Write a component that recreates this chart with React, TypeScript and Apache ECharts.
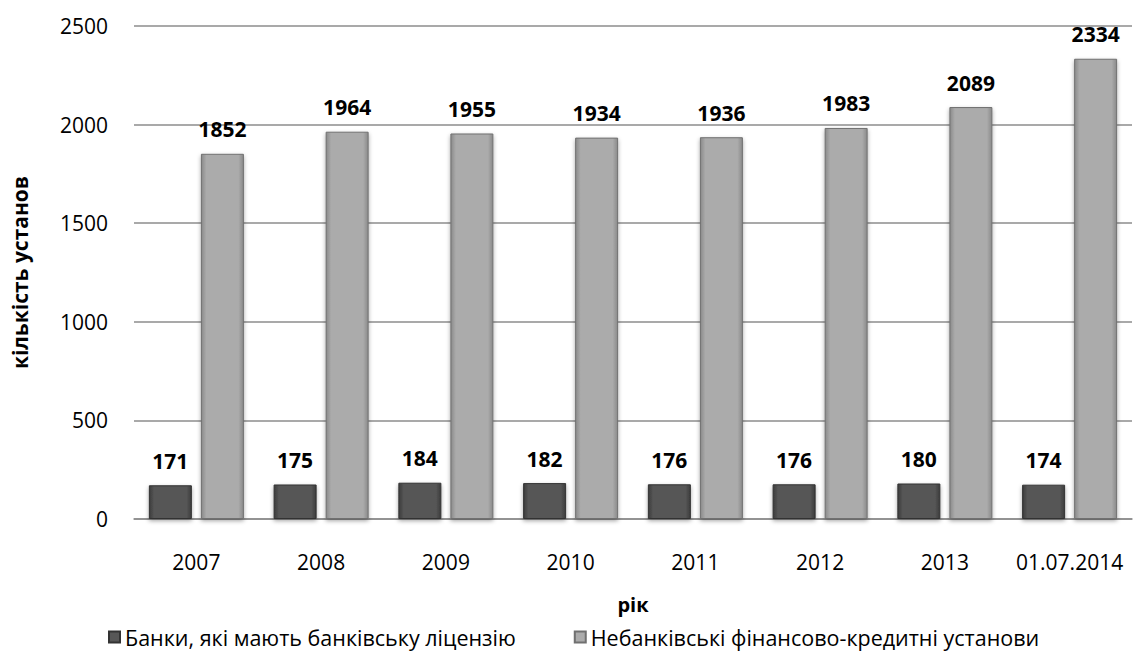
import React, { useEffect, useRef } from "react";
import * as echarts from "echarts";

const categories = ["2007", "2008", "2009", "2010", "2011", "2012", "2013", "01.07.2014"];
const banks = [171, 175, 184, 182, 176, 176, 180, 174];
const nonBanks = [1852, 1964, 1955, 1934, 1936, 1983, 2089, 2334];
const seriesNames = ["Банки, які мають банківську ліцензію", "Небанківські фінансово-кредитні установи"];
const yTicks = [0, 500, 1000, 1500, 2000, 2500];

const FONT = "'Open Sans', 'Noto Sans', sans-serif";

function grad(edge: string, mid: string) {
  return new echarts.graphic.LinearGradient(0, 0, 1, 0, [
    { offset: 0, color: edge },
    { offset: 0.12, color: mid },
    { offset: 0.88, color: mid },
    { offset: 1, color: edge },
  ]);
}

export default function App() {
  const ref = useRef<HTMLDivElement>(null);
  useEffect(() => {
    document.body.style.margin = "0";
    const chart = echarts.init(ref.current!, null, { renderer: "svg" });
    const label = {
      show: true,
      position: "top" as const,
      distance: 14,
      fontFamily: FONT,
      fontWeight: "bold" as const,
      fontSize: 21,
      color: "#000",
    };
    chart.setOption({
      animation: false,
      backgroundColor: "#fff",
      textStyle: { fontFamily: FONT },
      grid: { left: 134, right: 1, top: 26, bottom: 132, containLabel: false },
      legend: {
        bottom: 2,
        left: 108,
        itemWidth: 11,
        itemHeight: 11,
        itemGap: 58,
        icon: "rect",
        padding: 0,
        textStyle: { fontFamily: FONT, fontSize: 21.5, color: "#000", lineHeight: 24 },
        data: seriesNames,
      },
      xAxis: {
        type: "category",
        data: categories,
        name: "рік",
        nameLocation: "middle",
        nameGap: 85,
        nameTextStyle: { fontFamily: FONT, fontWeight: "bold", fontSize: 20, color: "#000", verticalAlign: "middle", lineHeight: 20 },
        axisLine: { lineStyle: { color: "#8c8c8c", width: 1.5 } },
        axisTick: { show: false },
        axisLabel: { fontFamily: FONT, fontSize: 21, color: "#000", margin: 32, interval: 0 },
      },
      yAxis: {
        type: "value",
        min: yTicks[0],
        max: yTicks[yTicks.length - 1],
        interval: 500,
        name: "кількість установ",
        nameLocation: "middle",
        nameGap: 104,
        nameRotate: 90,
        nameTextStyle: { fontFamily: FONT, fontWeight: "bold", fontSize: 21, color: "#000" },
        axisLine: { show: false },
        axisTick: { show: false },
        axisLabel: { fontFamily: FONT, fontSize: 21, color: "#000", margin: 26, formatter: (v: number) => String(v) },
        splitLine: { lineStyle: { color: "#8c8c8c", width: 1.5 } },
      },
      series: [
        {
          name: seriesNames[0],
          type: "bar",
          data: banks,
          barWidth: 43,
          barGap: "21%",
          itemStyle: {
            color: grad("#3c3c3c", "#575757"),
            borderColor: "#333",
            borderWidth: 1,
            shadowColor: "rgba(0,0,0,0.35)",
            shadowBlur: 4,
            shadowOffsetY: 2,
          },
          label,
        },
        {
          name: seriesNames[1],
          type: "bar",
          data: nonBanks,
          barWidth: 43,
          itemStyle: {
            color: grad("#8a8a8a", "#ababab"),
            borderColor: "#707070",
            borderWidth: 1,
            shadowColor: "rgba(0,0,0,0.35)",
            shadowBlur: 4,
            shadowOffsetY: 2,
          },
          label,
        },
      ],
    });
    return () => chart.dispose();
  }, []);
  return <div ref={ref} style={{ width: 1133, height: 651 }} />;
}
